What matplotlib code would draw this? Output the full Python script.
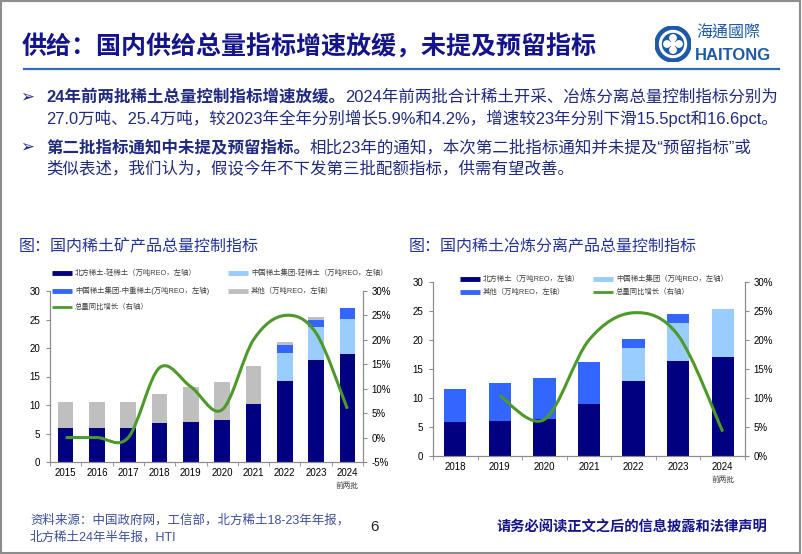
import numpy as np
import matplotlib
matplotlib.use('Agg')
import matplotlib.pyplot as plt
from matplotlib.path import Path
from matplotlib.patches import PathPatch, Circle
from matplotlib.lines import Line2D
from matplotlib.ticker import FuncFormatter, FixedLocator

# ---- data: 稀土矿产品总量控制指标 (万吨REO)
years1 = ['2015', '2016', '2017', '2018', '2019', '2020', '2021', '2022', '2023', '2024']
north_light1 = [6.0, 6.0, 6.0, 6.9, 7.1, 7.4, 10.1, 14.2, 17.9, 18.9]
china_light1 = [0, 0, 0, 0, 0, 0, 0, 5.0, 5.7, 6.2]
china_heavy1 = [0, 0, 0, 0, 0, 0, 0, 1.3, 1.3, 1.9]
other1 = [4.5, 4.5, 4.5, 5.1, 6.1, 6.6, 6.7, 0.6, 0.6, 0]
growth1 = [0, 0, 0, 14.3, 10.4, 5.7, 20.0, 25.0, 21.4, 5.9]

# ---- data: 稀土冶炼分离产品总量控制指标 (万吨REO)
years2 = ['2018', '2019', '2020', '2021', '2022', '2023', '2024']
north2 = [5.9, 6.1, 6.3, 8.9, 12.9, 16.4, 17.0]
china2 = [0, 0, 0, 0, 5.8, 6.5, 8.3]
other2 = [5.6, 6.5, 7.1, 7.3, 1.5, 1.5, 0]
growth2_years = ['2019', '2020', '2021', '2022', '2023', '2024']
growth2 = [10.4, 6.3, 20.0, 24.7, 20.8, 4.2]

NAVY = '#000080'
LIGHT = '#99ccff'
BLUE = '#3366ff'
GRAY = '#bfbfbf'
GREEN = '#4d9a2a'
TXT = '#1f2a80'
FONT = ['Liberation Sans', 'Noto Sans CJK SC']
CJK = ['Noto Sans CJK SC', 'DejaVu Sans']

W, H = 802, 554
fig = plt.figure(figsize=(W / 100, H / 100), dpi=100)


def fx(x):
    return x / W


def fy(y):
    return 1 - y / H


def smooth_path(xs, ys):
    # Excel-style smoothed line as cubic bezier segments
    pts = np.column_stack([xs, ys]).astype(float)
    n = len(pts)
    verts = [pts[0]]
    codes = [Path.MOVETO]
    for i in range(n - 1):
        p0 = pts[max(i - 1, 0)]
        p1 = pts[i]
        p2 = pts[i + 1]
        p3 = pts[min(i + 2, n - 1)]
        verts += [p1 + (p2 - p0) / 6, p2 - (p3 - p1) / 6, p2]
        codes += [Path.CURVE4] * 3
    return Path(verts, codes)


# ---- slide frame, title, logo
fig.add_artist(plt.Rectangle((0.001, 0.002), 0.997, 0.996, transform=fig.transFigure,
                             fill=False, edgecolor='#8c8c8c', lw=1.5))
fig.text(fx(22), fy(47), '供给：国内供给总量指标增速放缓，未提及预留指标', fontsize=18,
         fontweight='bold', color='#14148c', family=CJK, va='center')
fig.add_artist(Line2D([fx(24), fx(779)], [fy(69), fy(69)], color='#2e6db4', lw=1.6))

ax_logo = fig.add_axes([fx(655), fy(62), 36 / W, 36 / H])
ax_logo.set_xlim(-18, 18)
ax_logo.set_ylim(-18, 18)
ax_logo.set_aspect('equal')
ax_logo.axis('off')
ax_logo.add_patch(Circle((0, 0), 18, color='#1e5aa8'))
ax_logo.add_patch(Circle((0, 0), 13.5, color='white'))
ax_logo.add_patch(Circle((0, 0), 10.5, color='#1e5aa8'))
for ang in [0, 90, 180, 270]:
    a = np.deg2rad(ang)
    ax_logo.add_patch(Circle((6 * np.cos(a), 6 * np.sin(a)), 3.2, color='white'))
ax_logo.add_patch(Circle((0, 0), 2.5, color='white'))
fig.text(fx(696), fy(33), '海通國際', fontsize=11.5, color='#1e5aa8',
         family=['Noto Sans CJK TC'], va='center')
fig.text(fx(695), fy(55), 'HAITONG', fontsize=12, color='#1e5aa8', fontweight='bold',
         family=['Liberation Sans'], va='center')

# ---- bullet text
renderer = fig.canvas.get_renderer()


def rich_line(x, y, parts, size=11.85):
    for s, bold in parts:
        t = fig.text(fx(x), fy(y), s, fontsize=size, color=TXT, family=FONT, va='center',
                     fontweight='bold' if bold else 'normal')
        x += t.get_window_extent(renderer=renderer).width


fig.text(fx(20), fy(97), '➢', fontsize=12, color=TXT, family=['DejaVu Sans'], va='center')
fig.text(fx(20), fy(147), '➢', fontsize=12, color=TXT, family=['DejaVu Sans'], va='center')
rich_line(46, 97, [('24年前两批稀土总量控制指标增速放缓。', True),
                   ('2024年前两批合计稀土开采、冶炼分离总量控制指标分别为', False)])
rich_line(46, 118, [('27.0万吨、25.4万吨，较2023年全年分别增长5.9%和4.2%，增速较23年分别下滑15.5pct和16.6pct。', False)])
rich_line(46, 147, [('第二批指标通知中未提及预留指标。', True),
                    ('相比23年的通知，本次第二批指标通知并未提及“预留指标”或', False)])
rich_line(46, 168, [('类似表述，我们认为，假设今年不下发第三批配额指标，供需有望改善。', False)])

# ---- chart titles
fig.text(fx(19), fy(247), '图：国内稀土矿产品总量控制指标', fontsize=11.5, color='#23349a',
         family=CJK, va='center')
fig.text(fx(409), fy(247), '图：国内稀土冶炼分离产品总量控制指标', fontsize=11.5,
         color='#23349a', family=CJK, va='center')


def style_axes(ax, ax2, n):
    ax.spines['top'].set_visible(False)
    ax2.spines['top'].set_visible(False)
    for sp in ['left', 'right', 'bottom']:
        ax.spines[sp].set_color('#8c8c8c')
        ax2.spines[sp].set_color('#8c8c8c')
        ax.spines[sp].set_linewidth(0.8)
        ax2.spines[sp].set_linewidth(0.8)
    ax.set_xlim(-0.5, n - 0.5)
    ax.set_xticks(range(n))
    ax.xaxis.set_minor_locator(FixedLocator(np.arange(-0.5, n, 1.0)))
    ax.tick_params(axis='x', which='major', length=0, pad=4, labelsize=7)
    ax.tick_params(axis='x', which='minor', length=3, color='#8c8c8c')
    ax.tick_params(axis='y', length=3, color='#8c8c8c', labelsize=7, pad=4)
    ax2.tick_params(axis='y', length=3, color='#8c8c8c', labelsize=7, pad=3)
    ax.set_ylim(0, 30)
    ax.set_yticks(range(0, 31, 5))
    for lab in ax.get_xticklabels() + ax.get_yticklabels() + ax2.get_yticklabels():
        lab.set_family(FONT)
    ax2.yaxis.set_major_formatter(FuncFormatter(lambda v, p: f'{v:.0f}%'))


def legend_item(x, y, label, color, lw):
    fig.add_artist(Line2D([fx(x), fx(x + 20)], [fy(y), fy(y)], color=color, lw=lw,
                          solid_capstyle='butt'))
    fig.text(fx(x + 23), fy(y), label, fontsize=5.3, color='#404040', family=FONT,
             va='center')


# ---- chart 1
ax = fig.add_axes([fx(50), fy(462), (363 - 50) / W, (462 - 291) / H])
ax2 = ax.twinx()
x1 = np.arange(len(years1))
b = np.zeros(len(years1))
for vals, col in [(north_light1, NAVY), (china_light1, LIGHT), (china_heavy1, BLUE),
                  (other1, GRAY)]:
    ax.bar(x1, vals, width=0.5, bottom=b, color=col, zorder=2)
    b += np.array(vals)
ax2.add_patch(PathPatch(smooth_path(x1, growth1), facecolor='none', edgecolor=GREEN,
                        lw=2.2, zorder=3))
ax2.set_ylim(-5, 30)
ax2.set_yticks(range(-5, 31, 5))
ax.set_xticklabels(years1)
style_axes(ax, ax2, len(years1))
ax.text(9, -0.14, '前两批', transform=ax.get_xaxis_transform(), ha='center', va='center',
        fontsize=5.5, color='#404040', family=CJK)

legend_item(52, 273, '北方稀土-轻稀土（万吨REO，左轴）', NAVY, 3.5)
legend_item(228, 273, '中国稀土集团-轻稀土（万吨REO，左轴）', LIGHT, 3.5)
legend_item(52, 291, '中国稀土集团-中重稀土(万吨REO，左轴)', BLUE, 3.5)
legend_item(228, 291, '其他（万吨REO，左轴）', GRAY, 3.5)
legend_item(52, 307, '总量同比增长（右轴）', GREEN, 2)

# ---- chart 2
bx = fig.add_axes([fx(433), fy(456), (745 - 433) / W, (456 - 282) / H])
bx2 = bx.twinx()
x2 = np.arange(len(years2))
b = np.zeros(len(years2))
for vals, col in [(north2, NAVY), (china2, LIGHT), (other2, BLUE)]:
    bx.bar(x2, vals, width=0.5, bottom=b, color=col, zorder=2)
    b += np.array(vals)
gx = [years2.index(y) for y in growth2_years]
bx2.add_patch(PathPatch(smooth_path(gx, growth2), facecolor='none', edgecolor=GREEN,
                        lw=2.2, zorder=3))
bx2.set_ylim(0, 30)
bx2.set_yticks(range(0, 31, 5))
bx.set_xticklabels(years2)
style_axes(bx, bx2, len(years2))
bx.text(6, -0.135, '前两批', transform=bx.get_xaxis_transform(), ha='center', va='center',
        fontsize=5.5, color='#404040', family=CJK)

legend_item(460, 279, '北方稀土（万吨REO，左轴）', NAVY, 3.5)
legend_item(593, 279, '中国稀土集团（万吨REO，左轴）', LIGHT, 3.5)
legend_item(460, 292, '其他（万吨REO，左轴）', BLUE, 3.5)
legend_item(593, 292, '总量同比增长（右轴）', GREEN, 2)

# ---- footer
fig.text(fx(30), fy(520), '资料来源：中国政府网，工信部，北方稀土18-23年年报，', fontsize=9,
         color='#3c4fa0', family=FONT, va='center')
fig.text(fx(30), fy(537), '北方稀土24年半年报，HTI', fontsize=9, color='#3c4fa0',
         family=FONT, va='center')
fig.text(fx(370), fy(527), '6', fontsize=11, color='#222222', family=FONT, va='center')
fig.text(fx(497), fy(527), '请务必阅读正文之后的信息披露和法律声明', fontsize=10.3,
         color='#14148c', fontweight='bold', family=CJK, va='center')

fig.savefig('out.png', dpi=100)
